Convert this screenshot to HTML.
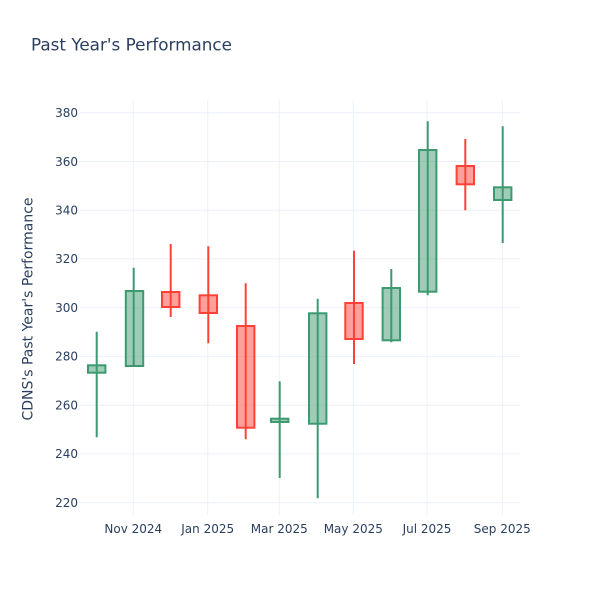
<!DOCTYPE html>
<html><head><meta charset="utf-8"><style>
html,body{margin:0;padding:0;background:#fff;}
svg{display:block;font-family:"DejaVu Sans","Liberation Sans",sans-serif;}
</style></head><body>
<svg width="600" height="600" viewBox="0 0 600 600" xmlns="http://www.w3.org/2000/svg">
<rect width="600" height="600" fill="#fff"/>
<g stroke="#EBF0F8" stroke-width="1">
<line x1="80" x2="520" y1="112.7" y2="112.7"/>
<line x1="80" x2="520" y1="161.5" y2="161.5"/>
<line x1="80" x2="520" y1="210.2" y2="210.2"/>
<line x1="80" x2="520" y1="258.9" y2="258.9"/>
<line x1="80" x2="520" y1="307.7" y2="307.7"/>
<line x1="80" x2="520" y1="356.4" y2="356.4"/>
<line x1="80" x2="520" y1="405.2" y2="405.2"/>
<line x1="80" x2="520" y1="453.9" y2="453.9"/>
<line x1="80" x2="520" y1="502.7" y2="502.7"/>
<line x1="133.3" x2="133.3" y1="100" y2="515"/>
<line x1="207.7" x2="207.7" y1="100" y2="515"/>
<line x1="279.3" x2="279.3" y1="100" y2="515"/>
<line x1="353.3" x2="353.3" y1="100" y2="515"/>
<line x1="427" x2="427" y1="100" y2="515"/>
<line x1="502.3" x2="502.3" y1="100" y2="515"/>
</g>
<g fill="#2a3f5f" font-size="12" text-anchor="end">
<text x="78" y="117">380</text>
<text x="78" y="165.8">360</text>
<text x="78" y="214.5">340</text>
<text x="78" y="263.2">320</text>
<text x="78" y="312">300</text>
<text x="78" y="360.7">280</text>
<text x="78" y="409.5">260</text>
<text x="78" y="458.2">240</text>
<text x="78" y="507">220</text>
</g>
<g fill="#2a3f5f" font-size="12" text-anchor="middle">
<text x="133.3" y="533">Nov 2024</text>
<text x="207.7" y="533">Jan 2025</text>
<text x="279.3" y="533">Mar 2025</text>
<text x="353.3" y="533">May 2025</text>
<text x="427" y="533">Jul 2025</text>
<text x="502.3" y="533">Sep 2025</text>
</g>
<text x="31" y="50.5" fill="#2a3f5f" font-size="17" textLength="201" lengthAdjust="spacingAndGlyphs">Past Year's Performance</text>
<text transform="translate(32.5,309) rotate(-90)" fill="#2a3f5f" font-size="14" text-anchor="middle">CDNS's Past Year's Performance</text>
<!-- candles -->
<g stroke-width="2">
<!-- green -->
<g stroke="#3D9970" fill="rgba(61,153,112,0.5)">
<line x1="96.7" x2="96.7" y1="331.7" y2="437.3"/><rect x="88" y="365.3" width="17.4" height="7.4"/>
<line x1="133.7" x2="133.7" y1="267.7" y2="366"/><rect x="125.8" y="291" width="17.4" height="75"/>
<line x1="279.7" x2="279.7" y1="381.3" y2="478"/><rect x="271" y="418.7" width="17.4" height="3.3"/>
<line x1="317.7" x2="317.7" y1="298.7" y2="498.3"/><rect x="309" y="313.3" width="17.4" height="110.4"/>
<line x1="391.3" x2="391.3" y1="269" y2="342.3"/><rect x="382.6" y="288" width="17.4" height="52.3"/>
<line x1="427.7" x2="427.7" y1="121.3" y2="295.3"/><rect x="419" y="150" width="17.4" height="141.7"/>
<line x1="502.7" x2="502.7" y1="126.3" y2="243"/><rect x="494" y="187.3" width="17.4" height="12.7"/>
</g>
<g stroke="#FF4136" fill="rgba(255,65,54,0.5)">
<line x1="170.7" x2="170.7" y1="244" y2="317"/><rect x="162" y="292" width="17.4" height="15"/>
<line x1="208.3" x2="208.3" y1="246.3" y2="343.3"/><rect x="199.6" y="295.3" width="17.4" height="17.7"/>
<line x1="245.7" x2="245.7" y1="283.3" y2="439.3"/><rect x="237" y="326" width="17.4" height="101.7"/>
<line x1="354" x2="354" y1="250.7" y2="364"/><rect x="345.3" y="303" width="17.4" height="36"/>
<line x1="465.3" x2="465.3" y1="139" y2="210.3"/><rect x="456.6" y="166" width="17.4" height="18.3"/>
</g>
</g>
</svg>
</body></html>
